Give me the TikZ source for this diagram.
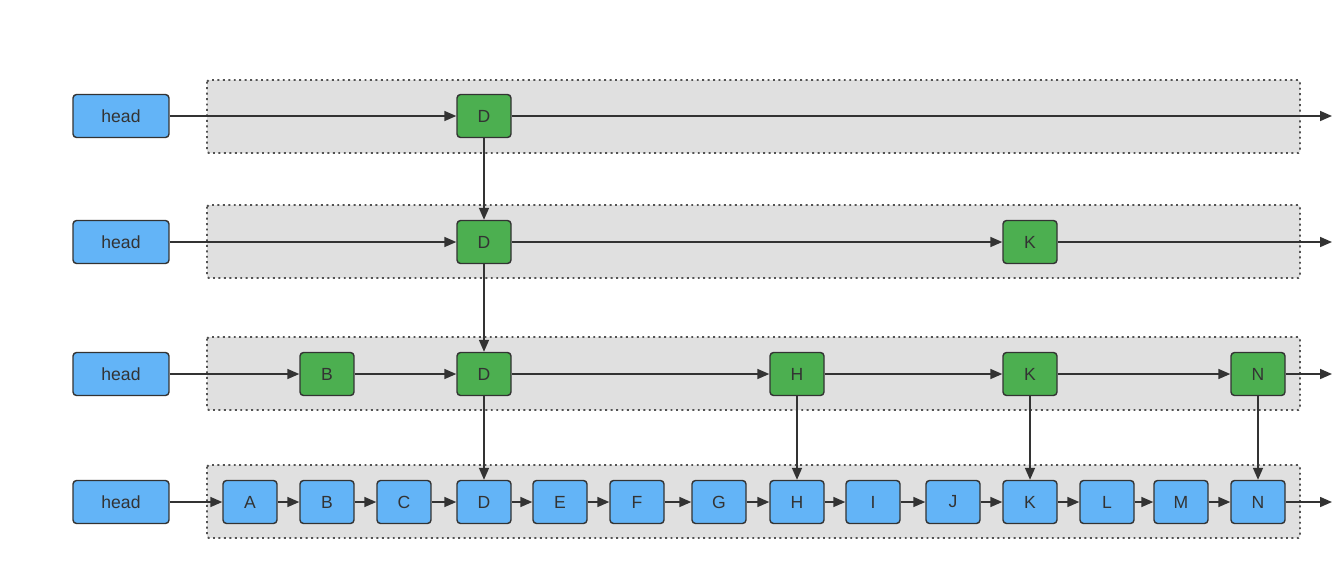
\documentclass[tikz,border=0pt]{standalone}
\usepackage{fontspec}
\setmainfont{Liberation Sans}
\usetikzlibrary{arrows.meta, positioning}
\definecolor{listblue}{RGB}{99, 180, 247}
\definecolor{indexgreen}{RGB}{76, 175, 80}
\definecolor{bandgray}{RGB}{224, 224, 224}
\definecolor{edgegray}{RGB}{51, 51, 51}

\begin{document}
\begin{tikzpicture}[x=0.02cm, y=-0.02cm,
    band/.style={fill=bandgray, draw=edgegray!85, dotted, line width=1.1pt, rounded corners=1pt},
    headbox/.style={draw=edgegray, fill=listblue, rounded corners=2pt, line width=0.8pt,
                    minimum width=1.92cm, minimum height=0.86cm, text=edgegray, font=\normalsize},
    basebox/.style={draw=edgegray, fill=listblue, rounded corners=2pt, line width=0.8pt,
                    minimum width=1.08cm, minimum height=0.86cm, text=edgegray},
    idxbox/.style={basebox, fill=indexgreen},
    link/.style={-{Triangle[length=2.4mm, width=2mm]}, draw=edgegray, line width=0.9pt}]
    \useasboundingbox (0,0) rectangle (1332,579);
    % BANDS (one per level)
    \draw[band] (207,80) rectangle (1300,153);
    \draw[band] (207,205) rectangle (1300,278);
    \draw[band] (207,337) rectangle (1300,410);
    \draw[band] (207,465) rectangle (1300,538);
    % LEVEL 3 (top index)
    \node[headbox] (h3) at (121,116) {head};
    \node[idxbox] (d3) at (484,116) {D};
    \coordinate (e3) at (1332,116);
    \draw[link] (h3) -- (d3);
    \draw[link] (d3) -- (e3);
    % LEVEL 2
    \node[headbox] (h2) at (121,242) {head};
    \node[idxbox] (d2) at (484,242) {D};
    \node[idxbox] (k2) at (1030,242) {K};
    \coordinate (e2) at (1332,242);
    \draw[link] (h2) -- (d2);
    \draw[link] (d2) -- (k2);
    \draw[link] (k2) -- (e2);
    % LEVEL 1
    \node[headbox] (h1) at (121,374) {head};
    \node[idxbox] (b1) at (327,374) {B};
    \node[idxbox] (d1) at (484,374) {D};
    \node[idxbox] (hh1) at (797,374) {H};
    \node[idxbox] (k1) at (1030,374) {K};
    \node[idxbox] (n1) at (1258,374) {N};
    \coordinate (e1) at (1332,374);
    \draw[link] (h1) -- (b1);
    \draw[link] (b1) -- (d1);
    \draw[link] (d1) -- (hh1);
    \draw[link] (hh1) -- (k1);
    \draw[link] (k1) -- (n1);
    \draw[link] (n1) -- (e1);
    % LEVEL 0 (base list)
    \node[headbox] (h0) at (121,502) {head};
    \node[basebox] (a0) at (250,502) {A};
    \node[basebox] (b0) at (327,502) {B};
    \node[basebox] (c0) at (404,502) {C};
    \node[basebox] (d0) at (484,502) {D};
    \node[basebox] (e0) at (560,502) {E};
    \node[basebox] (f0) at (637,502) {F};
    \node[basebox] (g0) at (719,502) {G};
    \node[basebox] (hh0) at (797,502) {H};
    \node[basebox] (i0) at (873,502) {I};
    \node[basebox] (j0) at (953,502) {J};
    \node[basebox] (k0) at (1030,502) {K};
    \node[basebox] (l0) at (1107,502) {L};
    \node[basebox] (m0) at (1181,502) {M};
    \node[basebox] (n0) at (1258,502) {N};
    \coordinate (end0) at (1332,502);
    \draw[link] (h0) -- (a0);
    \draw[link] (a0) -- (b0);
    \draw[link] (b0) -- (c0);
    \draw[link] (c0) -- (d0);
    \draw[link] (d0) -- (e0);
    \draw[link] (e0) -- (f0);
    \draw[link] (f0) -- (g0);
    \draw[link] (g0) -- (hh0);
    \draw[link] (hh0) -- (i0);
    \draw[link] (i0) -- (j0);
    \draw[link] (j0) -- (k0);
    \draw[link] (k0) -- (l0);
    \draw[link] (l0) -- (m0);
    \draw[link] (m0) -- (n0);
    \draw[link] (n0) -- (end0);
    % Down links between levels
    \draw[link] (d3) -- (d2);
    \draw[link] (d2) -- (d1);
    \draw[link] (d1) -- (d0);
    \draw[link] (hh1) -- (hh0);
    \draw[link] (k1) -- (k0);
    \draw[link] (n1) -- (n0);
\end{tikzpicture}
\end{document}
